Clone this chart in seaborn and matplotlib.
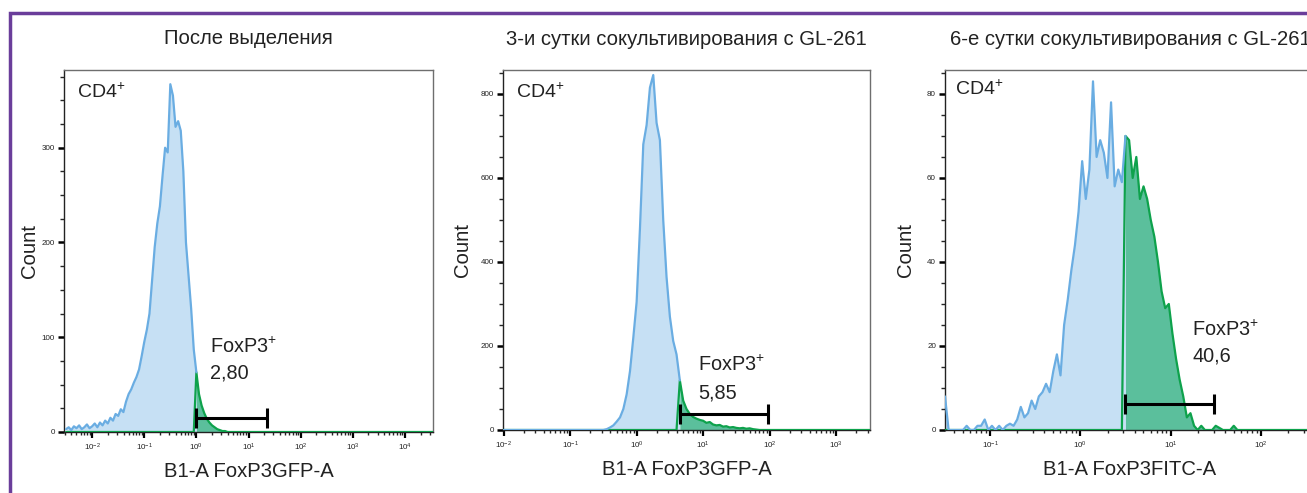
import numpy as np
import seaborn as sns
import matplotlib.pyplot as plt
from matplotlib.patches import Rectangle
from matplotlib.ticker import LogLocator, MultipleLocator, NullFormatter

# ---- data (counts per log10 bin) ----
titles = ['После выделения',
          '3-и сутки сокультивирования с GL-261',
          '6-е сутки сокультивирования с GL-261']
xlabels = ['B1-A FoxP3GFP-A', 'B1-A FoxP3GFP-A', 'B1-A FoxP3FITC-A']
pct_labels = ['2,80', '5,85', '40,6']

# panel 1: bins start at log10 = -2.5, step 0.05
p1_start, p1_step = -2.5, 0.05
p1_counts = [3, 5, 2, 6, 4, 7, 3, 5, 8, 4,
             6, 9, 5, 10, 7, 12, 9, 15, 12, 19,
             17, 24, 21, 32, 40, 45, 52, 58, 66, 80,
             95, 108, 125, 160, 195, 220, 238, 270, 300, 295,
             367, 355, 322, 328, 318, 275, 200, 165, 130, 87,
             63, 40, 28, 20, 14, 10, 7, 5, 3, 2,
             1, 1] + [0] * 80
p1_gate = (0.0, 1.35, 15)      # log10 low, log10 high, bar height

# panel 2: bins start at log10 = -2.0, step 0.05
p2_start, p2_step = -2.0, 0.05
p2_counts = [0] * 31 + [2, 6, 11, 20, 30, 50, 85, 140, 220, 305,
                        480, 680, 726, 815, 845, 731, 690, 500, 364, 270,
                        212, 180, 118, 70, 50, 38, 31, 27, 24, 22,
                        17, 19, 13, 11, 12, 8, 9, 6, 7, 5,
                        4, 5, 3, 4, 2, 1, 0] + [0] * 34
p2_gate = (0.65, 1.98, 38)

# panel 3: bins start at log10 = -1.5, step 0.04
p3_start, p3_step = -1.5, 0.04
p3_counts = [8, 0, 0, 0, 0, 0, 1, 0, 0, 1,
             1, 2.5, 0, 1, 0, 1, 0, 1, 1.5, 1,
             2.5, 5.5, 3, 4, 7, 5, 8, 9, 11, 9,
             14, 18, 13, 25, 31, 38, 44, 52, 64, 55,
             62, 83, 65, 69, 66, 60, 78, 58, 62, 59,
             70, 69, 60, 65, 55, 58, 55, 50, 46, 40,
             33, 29, 30, 23, 17, 12, 8, 3, 4, 1,
             0, 1, 0, 0, 0, 1, 0.5, 0, 0, 0,
             1] + [0] * 23
p3_gate = (0.50, 1.48, 6.2)

panels = [
    dict(start=p1_start, step=p1_step, counts=p1_counts, gate=p1_gate,
         xlim=(-2.54, 4.54), ylim=382, major=100, minor=25,
         rect=[64, 61, 369, 362], ylab_x=-0.068, cd4=(0.035, 0.939),
         fox=(0.396, 0.235, 0.163)),
    dict(start=p2_start, step=p2_step, counts=p2_counts, gate=p2_gate,
         xlim=(-2.01, 3.51), ylim=857, major=200, minor=50,
         rect=[503, 63, 367, 360], ylab_x=-0.085, cd4=(0.035, 0.94),
         fox=(0.531, 0.181, 0.103)),
    dict(start=p3_start, step=p3_step, counts=p3_counts, gate=p3_gate,
         xlim=(-1.5, 2.6), ylim=85.7, major=20, minor=5,
         rect=[945, 63, 370, 360], ylab_x=-0.082, cd4=(0.027, 0.947),
         fox=(0.668, 0.278, 0.206)),
]

W, H = 1307, 493
blue_line = '#6aade2'
blue_fill = '#c6e0f4'
green_line = '#0ea24c'
green_fill = '#5bbf9c'
txt = '#222222'

sns.set_theme(style='ticks')
plt.rcParams['font.family'] = ['Liberation Sans', 'DejaVu Sans']
plt.rcParams['mathtext.fontset'] = 'custom'
plt.rcParams['mathtext.rm'] = 'Liberation Sans'
plt.rcParams['mathtext.it'] = 'Liberation Sans:italic'
plt.rcParams['mathtext.bf'] = 'Liberation Sans:bold'

fig = plt.figure(figsize=(W / 100, H / 100), dpi=100)

for i, p in enumerate(panels):
    l, b, w, h = p['rect']
    ax = fig.add_axes([l / W, b / H, w / W, h / H])

    counts = np.array(p['counts'], dtype=float)
    logs = np.round(p['start'] + p['step'] * np.arange(len(counts)), 4)
    x = 10 ** logs
    g_lo, g_hi, g_y = p['gate']

    inside = logs >= g_lo - 1e-6
    below = logs <= g_lo + 1e-6
    green = np.where(inside, counts, 0)

    ax.fill_between(x[below], 0, counts[below], color=blue_fill, lw=0, zorder=1)
    ax.fill_between(x[inside], 0, counts[inside], color=green_fill, lw=0, zorder=2)
    sns.lineplot(x=x, y=green, ax=ax, color=green_line, lw=1.6,
                 estimator=None, sort=False, zorder=3)
    sns.lineplot(x=x[below], y=counts[below], ax=ax, color=blue_line, lw=1.6,
                 estimator=None, sort=False, zorder=4)

    # gate bar
    ax.plot([10 ** g_lo, 10 ** g_hi], [g_y, g_y], color='black', lw=2.2,
            marker='|', ms=15, mew=2.2, zorder=5, solid_capstyle='butt')

    ax.set_xscale('log')
    ax.set_xlim(10 ** p['xlim'][0], 10 ** p['xlim'][1])
    ax.set_ylim(0, p['ylim'])
    ax.xaxis.set_major_locator(LogLocator(base=10, numticks=20))
    ax.xaxis.set_minor_locator(LogLocator(base=10, subs=np.arange(2, 10), numticks=20))
    ax.xaxis.set_minor_formatter(NullFormatter())
    ax.yaxis.set_major_locator(MultipleLocator(p['major']))
    ax.yaxis.set_minor_locator(MultipleLocator(p['minor']))

    ax.tick_params(axis='both', which='major', labelsize=5.8, colors='black',
                   labelcolor=txt)
    ax.tick_params(axis='x', which='major', length=4, width=1.6, pad=3)
    ax.tick_params(axis='x', which='minor', length=2.5, width=1.0)
    ax.tick_params(axis='y', which='major', length=4.5, width=1.8, pad=2)
    ax.tick_params(axis='y', which='minor', length=3, width=1.0)

    for side in ['top', 'right']:
        ax.spines[side].set_color('#6e6e6e')
        ax.spines[side].set_linewidth(1.0)
    for side in ['left', 'bottom']:
        ax.spines[side].set_color(txt)
        ax.spines[side].set_linewidth(1.0)

    ax.set_title(titles[i], fontsize=14.6, color=txt, y=1 + 31 / h,
                 va='center', pad=0)
    ax.set_ylabel('Count', fontsize=14.6, color=txt)
    ax.yaxis.set_label_coords(p['ylab_x'], 0.5)
    ax.set_xlabel(xlabels[i], fontsize=14.6, color=txt)
    ax.xaxis.set_label_coords(0.5, -30 / h)

    ax.text(p['cd4'][0], p['cd4'][1], 'CD4$^{+}$', transform=ax.transAxes,
            fontsize=14, color=txt, ha='left', va='center')
    fx, fy1, fy2 = p['fox']
    ax.text(fx, fy1, 'FoxP3$^{+}$', transform=ax.transAxes,
            fontsize=14.3, color=txt, ha='left', va='center')
    ax.text(fx, fy2, pct_labels[i], transform=ax.transAxes,
            fontsize=14.3, color=txt, ha='left', va='center')

# purple frame around the figure
fig.add_artist(Rectangle((10 / W, -0.1), 2.0, (H - 13) / H + 0.1,
                         transform=fig.transFigure, fill=False,
                         ec='#6a3d9a', lw=2.5, clip_on=False))

fig.savefig('out.png', dpi=100)
